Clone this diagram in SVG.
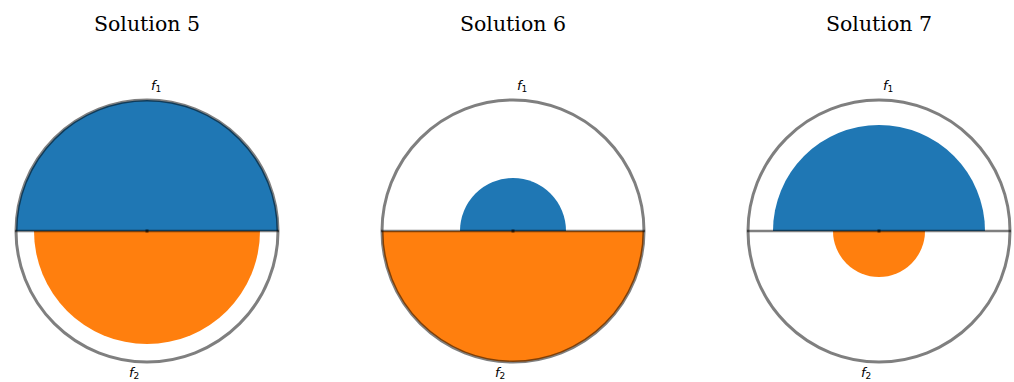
<svg xmlns="http://www.w3.org/2000/svg" width="1014" height="382" viewBox="0 0 1014 382">
<style>
.title{font-family:"DejaVu Serif",serif;font-size:20.5px;fill:#000;text-anchor:middle}
.lab{font-family:"DejaVu Sans",sans-serif;font-style:italic;font-size:13px;fill:#000}
.sub{font-family:"DejaVu Sans",sans-serif;font-size:9px;font-style:normal}
.blue{fill:#1f77b4}
.orange{fill:#ff7f0e}
.ring{fill:none;stroke:#000;stroke-opacity:0.5;stroke-width:3}
.axis{stroke:#000;stroke-opacity:0.5;stroke-width:2.7}
</style>
<rect width="1014" height="382" fill="#fff"/>
<g id="panel5">
<text class="title" x="147" y="31">Solution 5</text>
<path class="blue" d="M16,231 A131,131 0 0 1 278,231 Z"/>
<path class="orange" d="M34,231 A113,113 0 0 0 260,231 Z"/>
</g>
<g id="panel6">
<text class="title" x="513" y="31">Solution 6</text>
<path class="blue" d="M460,231 A53,53 0 0 1 566,231 Z"/>
<path class="orange" d="M382,231 A131,131 0 0 0 644,231 Z"/>
</g>
<g id="panel7">
<text class="title" x="879" y="31">Solution 7</text>
<path class="blue" d="M773,231 A106,106 0 0 1 985,231 Z"/>
<path class="orange" d="M833,231 A46,46 0 0 0 925,231 Z"/>
</g>
<g id="connectors">
<circle class="ring" cx="147" cy="231" r="131"/>
<line class="axis" x1="15" y1="231" x2="279" y2="231"/>
<rect x="145.5" y="229.5" width="3" height="3" fill="#000" fill-opacity="0.6"/>
<circle class="ring" cx="513" cy="231" r="131"/>
<line class="axis" x1="381" y1="231" x2="645" y2="231"/>
<rect x="511.5" y="229.5" width="3" height="3" fill="#000" fill-opacity="0.6"/>
<circle class="ring" cx="879" cy="231" r="131"/>
<line class="axis" x1="747" y1="231" x2="1011" y2="231"/>
<rect x="877.5" y="229.5" width="3" height="3" fill="#000" fill-opacity="0.6"/>
</g>
<g id="labels">
<text class="lab" x="151" y="90">f<tspan class="sub" dy="2">1</tspan></text>
<text class="lab" x="129" y="377">f<tspan class="sub" dy="2">2</tspan></text>
<text class="lab" x="517" y="90">f<tspan class="sub" dy="2">1</tspan></text>
<text class="lab" x="495" y="377">f<tspan class="sub" dy="2">2</tspan></text>
<text class="lab" x="883" y="90">f<tspan class="sub" dy="2">1</tspan></text>
<text class="lab" x="861" y="377">f<tspan class="sub" dy="2">2</tspan></text>
</g>
</svg>
